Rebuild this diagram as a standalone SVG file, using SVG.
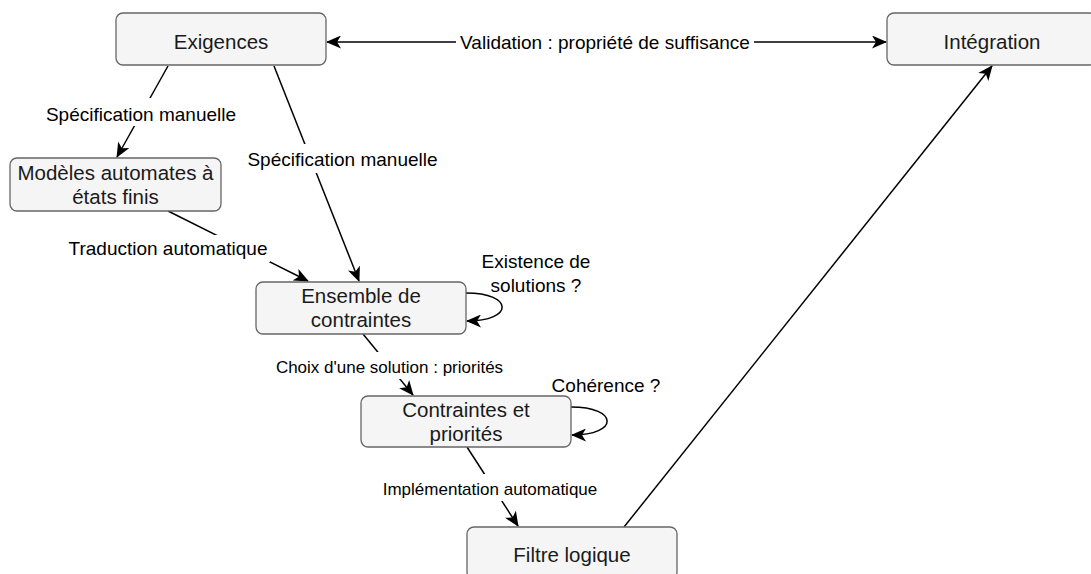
<svg xmlns="http://www.w3.org/2000/svg" width="1091" height="574" viewBox="0 0 1091 574">
<style>
.node rect{fill:#f5f5f5;stroke:#666666;stroke-width:1.3}
.nt{font-family:"Liberation Sans",Arial,sans-serif;font-size:20.5px;fill:#1a1a1a;text-anchor:middle}
.edge{fill:none;stroke:#000;stroke-width:1.5}
.lbl{font-family:"Liberation Sans",Arial,sans-serif;font-size:19px;fill:#000;text-anchor:middle}
.sm{font-size:17px}
.bg{fill:#ffffff}
</style>
<defs>
<marker id="arr" markerUnits="userSpaceOnUse" markerWidth="15" markerHeight="13" viewBox="0 0 15 13" refX="14" refY="6.5" orient="auto-start-reverse">
<path d="M0,0 L15,6.5 L0,13 L4,6.5 z" fill="#000"/>
</marker>
</defs>
<rect width="1091" height="574" fill="#ffffff"/>
<g id="connectors">
<path class="edge" d="M327,42 L886,42" marker-start="url(#arr)" marker-end="url(#arr)"/>
<path class="edge" d="M168,66 L117,157" marker-end="url(#arr)"/>
<path class="edge" d="M274,66 L359,281" marker-end="url(#arr)"/>
<path class="edge" d="M168,211 L308,281" marker-end="url(#arr)"/>
<path class="edge" d="M363,334 L413,395" marker-end="url(#arr)"/>
<path class="edge" d="M467,447 L518,526" marker-end="url(#arr)"/>
<path class="edge" d="M624,527 L992,66" marker-end="url(#arr)"/>
<path class="edge" d="M466,293 C514,293 514,321 467,321" marker-end="url(#arr)"/>
<path class="edge" d="M571,407 C619,407 619,435 572,435" marker-end="url(#arr)"/>
</g>
<g id="labels">
<rect class="bg" x="456" y="30" width="298" height="26"/>
<text class="lbl" x="605" y="49">Validation : propriété de suffisance</text>
<rect class="bg" x="44" y="98" width="194" height="28"/>
<text class="lbl" x="141" y="120.5">Spécification manuelle</text>
<rect class="bg" x="246" y="144" width="193" height="29"/>
<text class="lbl" x="342.5" y="166">Spécification manuelle</text>
<rect class="bg" x="66" y="235" width="204" height="27"/>
<text class="lbl" x="168" y="255">Traduction automatique</text>
<rect class="bg" x="274" y="352" width="231" height="27"/>
<text class="lbl sm" x="389.5" y="373">Choix d'une solution : priorités</text>
<rect class="bg" x="380" y="474" width="220" height="27"/>
<text class="lbl sm" x="490" y="495">Implémentation automatique</text>
<text class="lbl" x="536" y="268">Existence de</text>
<text class="lbl" x="536" y="292">solutions ?</text>
<text class="lbl" x="606" y="392">Cohérence ?</text>
</g>
<g id="node-exigences" class="node">
<rect x="116" y="13" width="210" height="52" rx="7"/>
<text class="nt" x="221" y="48.5">Exigences</text>
</g>
<g id="node-integration" class="node">
<rect x="887" y="13" width="210" height="52" rx="7"/>
<text class="nt" x="992" y="48.5">Intégration</text>
</g>
<g id="node-modeles" class="node">
<rect x="10" y="158" width="211" height="53" rx="7"/>
<text class="nt" x="115.5" y="180">Modèles automates à</text>
<text class="nt" x="115.5" y="204">états finis</text>
</g>
<g id="node-ensemble" class="node">
<rect x="256" y="282" width="210" height="52" rx="7"/>
<text class="nt" x="361" y="303">Ensemble de</text>
<text class="nt" x="361" y="327">contraintes</text>
</g>
<g id="node-contraintes" class="node">
<rect x="361" y="396" width="210" height="51" rx="7"/>
<text class="nt" x="466" y="417">Contraintes et</text>
<text class="nt" x="466" y="441">priorités</text>
</g>
<g id="node-filtre" class="node">
<rect x="467" y="527" width="210" height="52" rx="7"/>
<text class="nt" x="572" y="561.5">Filtre logique</text>
</g>
</svg>
